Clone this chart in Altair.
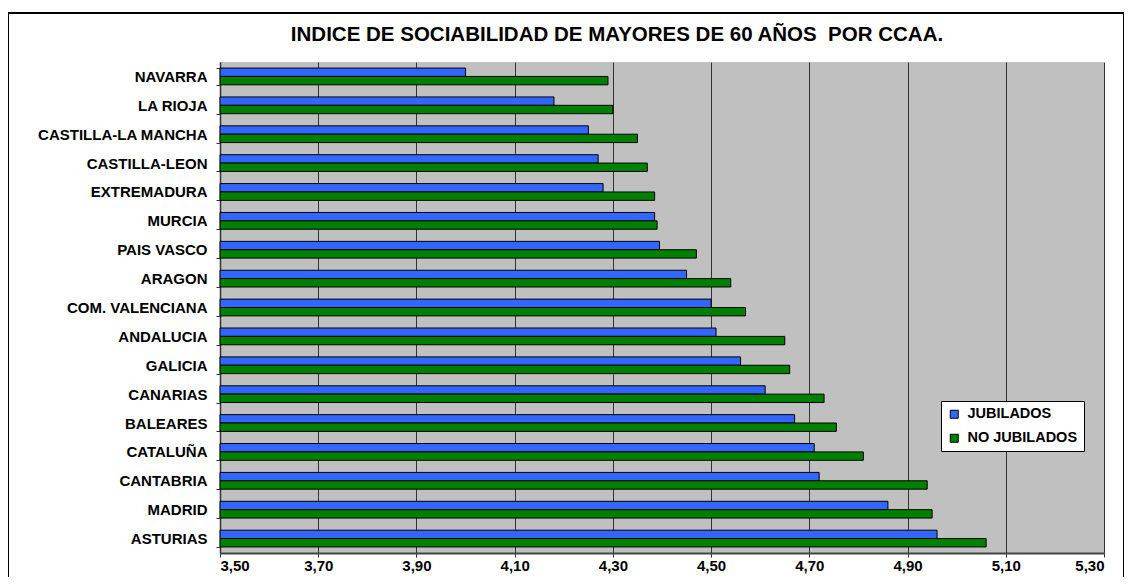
import altair as alt
import pandas as pd

regions = ["NAVARRA", "LA RIOJA", "CASTILLA-LA MANCHA", "CASTILLA-LEON", "EXTREMADURA",
           "MURCIA", "PAIS VASCO", "ARAGON", "COM. VALENCIANA", "ANDALUCIA", "GALICIA",
           "CANARIAS", "BALEARES", "CATALUÑA", "CANTABRIA", "MADRID", "ASTURIAS"]
jubilados = [4.00, 4.18, 4.25, 4.27, 4.28, 4.385, 4.395, 4.45, 4.50, 4.51, 4.56,
             4.61, 4.67, 4.71, 4.72, 4.86, 4.96]
no_jubilados = [4.29, 4.30, 4.35, 4.37, 4.385, 4.39, 4.47, 4.54, 4.57, 4.65, 4.66,
                4.73, 4.755, 4.81, 4.94, 4.95, 5.06]
series = ["JUBILADOS", "NO JUBILADOS"]
colors = ["#3366FF", "#008000"]
ticks = [3.5, 3.7, 3.9, 4.1, 4.3, 4.5, 4.7, 4.9, 5.1, 5.3]
title_text = "INDICE DE SOCIABILIDAD DE MAYORES DE 60 AÑOS \u00a0POR CCAA."

rows = []
for r, a, b in zip(regions, jubilados, no_jubilados):
    rows.append({"region": r, "serie": series[0], "valor": a})
    rows.append({"region": r, "serie": series[1], "valor": b})
df = pd.DataFrame(rows)

FONT = "Liberation Sans, Arial, sans-serif"
W, H = 884, 491

bars = alt.Chart(df).mark_bar(stroke="black", strokeWidth=1).encode(
    y=alt.Y("region:N", sort=regions, title=None,
            scale=alt.Scale(paddingInner=0.42, paddingOuter=0.21),
            axis=alt.Axis(tickBand="extent", grid=False, labelFont=FONT, labelFontSize=15,
                          labelFontWeight="bold", labelColor="black", labelPadding=9,
                          tickSize=4, tickColor="#333333", domainColor="#333333",
                          domainWidth=1.5)),
    yOffset=alt.YOffset("serie:N", sort=series, scale=alt.Scale(paddingInner=0, paddingOuter=0)),
    x=alt.X("valor:Q", title=None,
            scale=alt.Scale(domain=[3.5, 5.3], nice=False, zero=False),
            axis=alt.Axis(values=ticks, labelExpr="replace(format(datum.value, '.2f'), '.', ',')",
                          grid=True, gridColor="#333333", gridWidth=1, gridOpacity=1,
                          labelFont=FONT, labelFontSize=15, labelFontWeight="bold",
                          labelColor="black", labelPadding=1, tickSize=4, tickColor="#333333",
                          domainColor="#444444", domainWidth=2)),
    x2=alt.datum(3.5),
    color=alt.Color("serie:N", sort=series,
                    scale=alt.Scale(domain=series, range=colors),
                    legend=alt.Legend(title=None, orient="none", legendX=721, legendY=339,
                                      fillColor="white", strokeColor="black", padding=6,
                                      symbolType="square", symbolSize=64,
                                      symbolStrokeColor="black", symbolStrokeWidth=1,
                                      labelFont=FONT, labelFontSize=14.5, labelFontWeight="bold",
                                      labelColor="black", labelOffset=6, rowPadding=9)),
)

border = alt.Chart(pd.DataFrame({"k": [0]})).mark_rect(
    fill=None, stroke="black", strokeWidth=2, clip=False
).encode(
    x=alt.value(-212), x2=alt.value(904), y=alt.value(-49), y2=alt.value(560)
)

title = alt.Chart(pd.DataFrame({"t": [title_text]})).mark_text(
    font=FONT, fontSize=20.5, fontWeight="bold", color="black",
    align="center", baseline="middle", clip=False
).encode(
    text="t:N", x=alt.value(397), y=alt.value(-27)
)

chart = alt.layer(border, bars, title).properties(
    width=W, height=H,
    autosize=alt.AutoSizeParams(type="none"),
    padding={"left": 212, "top": 54, "right": 20, "bottom": 24},
    background="white",
).configure_view(fill="#C0C0C0", stroke=None)

chart.save("out.html", embed_options={"renderer": "svg", "actions": False})
